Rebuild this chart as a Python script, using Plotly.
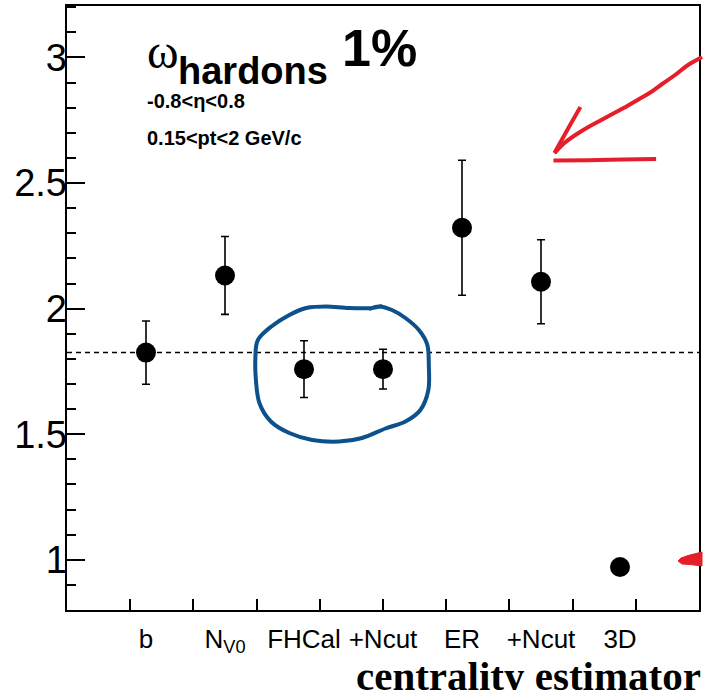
import plotly.graph_objects as go

# Scaled variance of hadron multiplicity for each centrality estimator (1% class)
estimators = ["b", "N<sub>V0</sub>", "FHCal", "+Ncut", "ER", "+Ncut", "3D"]
omega = [1.825, 2.132, 1.759, 1.759, 2.322, 2.107, 0.971]
omega_err = [0.126, 0.155, 0.113, 0.079, 0.269, 0.167, 0.0]
positions = list(range(1, len(estimators) + 1))
reference_level = omega[0]  # impact-parameter value, drawn as the dashed line

y_major = [1, 1.5, 2, 2.5, 3]
y_major_text = ["1", "1.5", "2", "2.5", "3"]
x_divisions = [0.8 * i for i in range(1, 10)]
Y_RANGE = [0.8, 3.205]
X_RANGE = [0, 8]

W, H = 703, 690
ML, MR, MT, MB = 67, 2, 6, 80
PW, PH = W - ML - MR, H - MT - MB


def px(xp):
    return (xp - ML) / PW


def py(yp):
    return (H - MB - yp) / PH


def smooth_path(pts, closed=False):
    P = [(px(x), py(y)) for x, y in pts]
    n = len(P)
    d = f"M{P[0][0]:.5f},{P[0][1]:.5f}"
    for i in range(n - 1):
        p0 = P[i - 1] if i > 0 else P[i]
        p1, p2 = P[i], P[i + 1]
        p3 = P[i + 2] if i + 2 < n else P[i + 1]
        c1 = (p1[0] + (p2[0] - p0[0]) / 6, p1[1] + (p2[1] - p0[1]) / 6)
        c2 = (p2[0] - (p3[0] - p1[0]) / 6, p2[1] - (p3[1] - p1[1]) / 6)
        d += f" C{c1[0]:.5f},{c1[1]:.5f} {c2[0]:.5f},{c2[1]:.5f} {p2[0]:.5f},{p2[1]:.5f}"
    if closed:
        d += " Z"
    return d


RED = "#e61e2a"
BLUE = "#0c508c"

fig = go.Figure()

fig.add_trace(go.Scatter(
    x=positions, y=omega, mode="markers",
    marker=dict(color="black", size=20),
    error_y=dict(type="data", array=omega_err, color="black", thickness=1.6, width=4),
    hoverinfo="skip", showlegend=False,
))
# carrier for the label axes (category names and y values)
fig.add_trace(go.Scatter(
    x=positions, y=omega, xaxis="x2", yaxis="y2", mode="markers",
    marker=dict(opacity=0), hoverinfo="skip", showlegend=False,
))

shapes = [
    dict(type="line", xref="paper", x0=0, x1=1, yref="y", y0=reference_level, y1=reference_level,
         line=dict(color="black", width=1.5, dash="5px,4px")),
]

# hand-drawn highlight around the FHCal results
blue_loop = [(383, 306), (373, 308), (350, 308), (327, 306.5), (307, 308), (290, 315),
             (272, 326.5), (258.5, 340), (256, 357), (256.5, 380), (260, 403), (271.5, 421.5),
             (290, 433), (313, 440), (340, 441.5), (363, 438), (386.5, 428.5), (406.5, 421.5),
             (421.5, 410), (429.5, 390), (430, 366.5), (428.5, 345), (420, 330), (406.5, 318),
             (393, 310), (380, 306.5), (370, 309)]
shapes.append(dict(type="path", xref="paper", yref="paper", path=smooth_path(blue_loop),
                   line=dict(color=BLUE, width=4)))

# red arrow pointing at the ER point
red_curve = [(704, 57), (690, 65), (677, 75), (664, 84), (653, 92), (641, 99), (629, 106),
             (616, 113), (603, 120), (590, 127), (577, 135), (566, 143), (556, 153)]
shapes.append(dict(type="path", xref="paper", yref="paper", path=smooth_path(red_curve),
                   line=dict(color=RED, width=4)))
shapes.append(dict(type="path", xref="paper", yref="paper",
                   path=smooth_path([(582, 107), (570, 128), (556, 153)]),
                   line=dict(color=RED, width=4)))
shapes.append(dict(type="path", xref="paper", yref="paper",
                   path=smooth_path([(555, 160.5), (600, 160), (658, 159)]),
                   line=dict(color=RED, width=4)))
# red mark at the right edge next to the 3D point
blob = [(680, 561), (683, 558), (690, 555.5), (704, 552), (704, 566), (692, 564.5), (684, 564)]
blob_path = "M" + " L".join(f"{px(x):.5f},{py(y):.5f}" for x, y in blob) + " Z"
shapes.append(dict(type="path", xref="paper", yref="paper", path=blob_path,
                   fillcolor=RED, line=dict(color=RED, width=1)))

SANS = "Liberation Sans, Arial, sans-serif"
SERIF = "Liberation Serif, Times New Roman, serif"


def label(text, x, top, size, family=SANS, anchor="left"):
    return dict(text=text, xref="paper", yref="paper", x=px(x), y=py(top),
                xanchor=anchor, yanchor="top", showarrow=False, borderpad=0,
                font=dict(family=family, size=size, color="black"))


annotations = [
    label("ω", 146, 24, 48, family=SERIF),
    label("<b>hardons</b>", 177, 49, 38),
    label("<b>1%</b>", 342, 18, 52),
    label("<b>-0.8<η<0.8</b>", 146, 89, 20),
    label("<b>0.15<pt<2 GeV/c</b>", 146, 126, 20),
    label("<b>centrality estimator</b>", 704, 652, 41, family=SERIF, anchor="right"),
]

axis_common = dict(showgrid=False, zeroline=False)

fig.update_layout(
    width=W, height=H,
    margin=dict(l=ML, r=MR, t=MT, b=MB),
    paper_bgcolor="white", plot_bgcolor="white",
    showlegend=False,
    shapes=shapes,
    annotations=annotations,
    xaxis=dict(range=X_RANGE, tickmode="array", tickvals=x_divisions, showticklabels=False,
               ticks="inside", ticklen=11, tickwidth=1.5, tickcolor="black",
               showline=True, mirror=True, linecolor="black", linewidth=1.5, **axis_common),
    xaxis2=dict(range=X_RANGE, overlaying="x", anchor="y", side="bottom",
                tickmode="array", tickvals=positions, ticktext=estimators, ticks="",
                showline=False, ticklabelstandoff=11,
                tickfont=dict(family=SANS, size=26, color="black"), **axis_common),
    yaxis=dict(range=Y_RANGE, tickmode="array", tickvals=y_major, showticklabels=False,
               ticks="inside", ticklen=18, tickwidth=1.5, tickcolor="black",
               minor=dict(ticks="inside", ticklen=9, tickwidth=1.5, tickcolor="black",
                          tickmode="linear", tick0=0, dtick=0.1),
               showline=True, mirror=True, linecolor="black", linewidth=1.5, **axis_common),
    yaxis2=dict(range=Y_RANGE, overlaying="y", anchor="free", side="left", position=0,
                tickmode="array", tickvals=y_major, ticktext=y_major_text, ticks="",
                showline=False, tickfont=dict(family=SANS, size=38, color="black"),
                **axis_common),
)

fig.write_html("out.html")
